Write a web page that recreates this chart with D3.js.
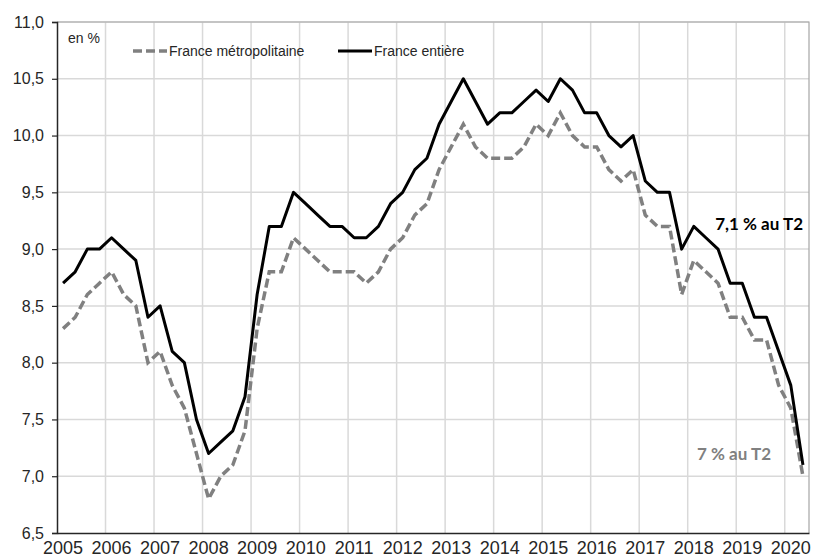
<!DOCTYPE html>
<html>
<head>
<meta charset="utf-8">
<script src="https://cdn.jsdelivr.net/npm/d3@7"></script>
<style>
  body { margin: 0; background: #fff; }
  svg { display: block; }
  .tick-label { font-family: "Liberation Sans", Arial, sans-serif; fill: #262626; }
</style>
</head>
<body>
<script>
var width = 814;
var height = 558;

// data (taux de chômage, trimestriel)
var years = ['2005', '2006', '2007', '2008', '2009', '2010', '2011', '2012',
  '2013', '2014', '2015', '2016', '2017', '2018', '2019', '2020'];
var quarters = ['T1', 'T2', 'T3', 'T4'];
var lastPeriod = '2020 T2';

var franceEntiere = [
  8.7, 8.8, 9.0, 9.0,
  9.1, 9.0, 8.9, 8.4,
  8.5, 8.1, 8.0, 7.5,
  7.2, 7.3, 7.4, 7.7,
  8.6, 9.2, 9.2, 9.5,
  9.4, 9.3, 9.2, 9.2,
  9.1, 9.1, 9.2, 9.4,
  9.5, 9.7, 9.8, 10.1,
  10.3, 10.5, 10.3, 10.1,
  10.2, 10.2, 10.3, 10.4,
  10.3, 10.5, 10.4, 10.2,
  10.2, 10.0, 9.9, 10.0,
  9.6, 9.5, 9.5, 9.0,
  9.2, 9.1, 9.0, 8.7,
  8.7, 8.4, 8.4, 8.1,
  7.8, 7.1
];

var franceMetro = [
  8.3, 8.4, 8.6, 8.7,
  8.8, 8.6, 8.5, 8.0,
  8.1, 7.8, 7.6, 7.2,
  6.8, 7.0, 7.1, 7.4,
  8.3, 8.8, 8.8, 9.1,
  9.0, 8.9, 8.8, 8.8,
  8.8, 8.7, 8.8, 9.0,
  9.1, 9.3, 9.4, 9.7,
  9.9, 10.1, 9.9, 9.8,
  9.8, 9.8, 9.9, 10.1,
  10.0, 10.2, 10.0, 9.9,
  9.9, 9.7, 9.6, 9.7,
  9.3, 9.2, 9.2, 8.6,
  8.9, 8.8, 8.7, 8.4,
  8.4, 8.2, 8.2, 7.8,
  7.6, 7.0
];

var yTicks = [6.5, 7.0, 7.5, 8.0, 8.5, 9.0, 9.5, 10.0, 10.5, 11.0];

var seriesNames = ['France métropolitaine', 'France entière'];
var unitLabel = 'en %';
var noteEntiere = '7,1 % au T2';
var noteMetro = '7 % au T2';

// one key per quarter, up to the last published one
var periods = [];
years.forEach(function(y) {
  quarters.forEach(function(q) {
    if (periods.length && periods[periods.length - 1] === lastPeriod) return;
    periods.push(y + ' ' + q);
  });
});

var margin = { left: 57, right: 5, top: 22, bottom: 25 };
var plotW = width - margin.left - margin.right;
var plotH = height - margin.top - margin.bottom;

var svg = d3.select('body').append('svg')
  .attr('width', width)
  .attr('height', height);

var x = d3.scaleBand()
  .domain(periods)
  .range([0, plotW])
  .padding(0);

var y = d3.scaleLinear()
  .domain([6.5, 11])
  .range([plotH, 0]);

var g = svg.append('g')
  .attr('transform', 'translate(' + margin.left + ',' + margin.top + ')');

// horizontal grid
g.append('g')
  .selectAll('line')
  .data(yTicks.slice(1))
  .enter()
    .append('line')
    .attr('x1', 0)
    .attr('x2', plotW)
    .attr('y1', function(d) { return y(d); })
    .attr('y2', function(d) { return y(d); })
    .attr('stroke', '#d9d9d9')
    .attr('stroke-width', 1.5);

// vertical grid, at the start of each year
var yearStarts = years.slice(1).map(function(yr) { return yr + ' T1'; });
g.append('g')
  .selectAll('line')
  .data(yearStarts)
  .enter()
    .append('line')
    .attr('x1', function(d) { return x(d); })
    .attr('x2', function(d) { return x(d); })
    .attr('y1', 0)
    .attr('y2', plotH)
    .attr('stroke', '#d9d9d9')
    .attr('stroke-width', 1.5);

// plot area border (top / right)
g.append('path')
  .attr('d', 'M0,0H' + plotW + 'V' + plotH)
  .attr('fill', 'none')
  .attr('stroke', '#a6a6a6')
  .attr('stroke-width', 1.2);

// y axis
var yAxis = g.append('g')
  .call(d3.axisLeft(y)
    .tickValues(yTicks)
    .tickSize(5)
    .tickPadding(8)
    .tickFormat(function(d) { return d3.format('.1f')(d).replace('.', ','); }));
yAxis.select('.domain').attr('stroke', '#262626').attr('stroke-width', 1.5);
yAxis.selectAll('.tick line').attr('stroke', '#262626').attr('stroke-width', 1.2);
yAxis.selectAll('.tick text')
  .attr('class', 'tick-label')
  .style('font-size', '16px');

// x axis: year labels under each first quarter
var xAxis = g.append('g')
  .attr('transform', 'translate(0,' + plotH + ')')
  .call(d3.axisBottom(x)
    .tickValues(years.map(function(yr) { return yr + ' T1'; }))
    .tickSize(0)
    .tickPadding(8)
    .tickFormat(function(d) { return d.split(' ')[0]; }));
xAxis.select('.domain').attr('stroke', '#262626').attr('stroke-width', 1.5);
xAxis.selectAll('.tick text')
  .attr('class', 'tick-label')
  .style('font-size', '18px');

var line = function(values) {
  return d3.line()
    .x(function(d, i) { return x(periods[i]) + x.bandwidth() / 2; })
    .y(function(d) { return y(d); })(values);
};

g.append('path')
  .attr('d', line(franceMetro))
  .attr('fill', 'none')
  .attr('stroke', '#808080')
  .attr('stroke-width', 3.5)
  .attr('stroke-dasharray', '9,4');

g.append('path')
  .attr('d', line(franceEntiere))
  .attr('fill', 'none')
  .attr('stroke', '#000')
  .attr('stroke-width', 3)
  .attr('stroke-linejoin', 'round');

// unit + legend
svg.append('text')
  .attr('x', 68)
  .attr('y', 42.5)
  .attr('class', 'tick-label')
  .style('font-size', '14px')
  .text(unitLabel);

var legend = [
  { name: seriesNames[0], x: 133, color: '#808080', dash: '9,4', w: 3.5 },
  { name: seriesNames[1], x: 338, color: '#000', dash: null, w: 3 }
];
legend.forEach(function(l) {
  svg.append('line')
    .attr('x1', l.x)
    .attr('x2', l.x + 34)
    .attr('y1', 51)
    .attr('y2', 51)
    .attr('stroke', l.color)
    .attr('stroke-width', l.w)
    .attr('stroke-dasharray', l.dash);
  svg.append('text')
    .attr('x', l.x + 36)
    .attr('y', 55.5)
    .attr('class', 'tick-label')
    .style('font-size', '14px')
    .text(l.name);
});

// end-of-series notes
svg.append('text')
  .attr('x', 803)
  .attr('y', 230)
  .attr('text-anchor', 'end')
  .style('font-family', 'Lato, "Open Sans", sans-serif')
  .style('font-weight', 'bold')
  .style('font-size', '17px')
  .attr('fill', '#000')
  .text(noteEntiere);

svg.append('text')
  .attr('x', 771)
  .attr('y', 460)
  .attr('text-anchor', 'end')
  .style('font-family', 'Lato, "Open Sans", sans-serif')
  .style('font-weight', 'bold')
  .style('font-size', '17px')
  .attr('fill', '#808080')
  .text(noteMetro);
</script>
</body>
</html>
